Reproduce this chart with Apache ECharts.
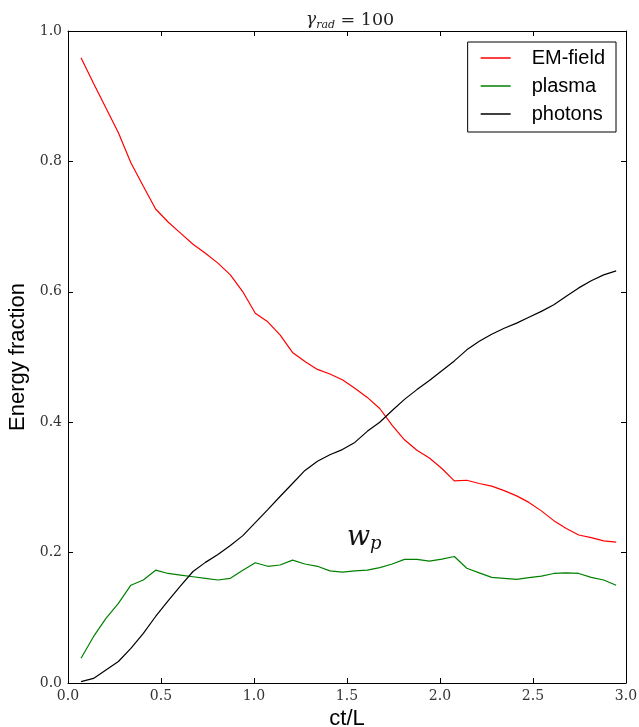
<!DOCTYPE html>
<html>
<head>
<meta charset="utf-8">
<script src="https://cdn.jsdelivr.net/npm/echarts@6/dist/echarts.min.js"></script>
<style>html,body{margin:0;padding:0;background:#fff;}#c{width:639px;height:727px;}</style>
</head>
<body>
<div id="c"></div>
<script>
var ctL = [0.070,0.137,0.204,0.271,0.338,0.405,0.471,0.538,0.605,0.672,0.739,0.806,0.873,0.940,1.007,1.074,1.140,1.207,1.274,1.341,1.408,1.475,1.542,1.609,1.676,1.743,1.809,1.876,1.943,2.010,2.077,2.144,2.211,2.278,2.345,2.412,2.478,2.545,2.612,2.679,2.746,2.813,2.880,2.947];
var emField = [0.959,0.920,0.882,0.844,0.798,0.762,0.727,0.707,0.690,0.673,0.659,0.644,0.626,0.600,0.567,0.554,0.534,0.507,0.493,0.481,0.474,0.465,0.452,0.438,0.421,0.395,0.373,0.357,0.345,0.329,0.310,0.311,0.306,0.302,0.295,0.287,0.277,0.264,0.249,0.237,0.227,0.223,0.218,0.216];
var plasma = [0.038,0.071,0.099,0.122,0.150,0.158,0.173,0.168,0.1655,0.163,0.1605,0.158,0.1605,0.173,0.1845,0.179,0.181,0.1885,0.1825,0.179,0.172,0.170,0.172,0.173,0.177,0.1825,0.1897,0.1897,0.187,0.190,0.194,0.176,0.169,0.162,0.1605,0.159,0.1615,0.164,0.168,0.169,0.168,0.162,0.158,0.150];
var photons = [0.002,0.007,0.020,0.033,0.053,0.076,0.102,0.126,0.149,0.171,0.185,0.197,0.211,0.226,0.246,0.266,0.286,0.306,0.326,0.340,0.350,0.358,0.369,0.386,0.400,0.418,0.435,0.450,0.464,0.479,0.494,0.511,0.524,0.535,0.544,0.552,0.561,0.570,0.580,0.593,0.606,0.617,0.626,0.632];
var xTicks = [0, 0.5, 1.0, 1.5, 2.0, 2.5, 3.0];
var yTicks = [0, 0.2, 0.4, 0.6, 0.8, 1.0];
var seriesNames = ['EM-field', 'plasma', 'photons'];
var annotation = {x: 1.5, y: 0.222};

function pairs(ys){ return ys.map(function(v,i){ return [ctL[i], v]; }); }

var serif = '"DejaVu Serif", "Liberation Serif", serif';
var sans = '"Liberation Sans", Arial, sans-serif';

var chart = echarts.init(document.getElementById('c'), null, {renderer:'canvas'});
var axisCommon = {
  axisLine: {show: true, onZero: false, lineStyle: {color: '#000', width: 1}},
  axisTick: {show: true, inside: true, length: 5, lineStyle: {color: '#000', width: 1}},
  splitLine: {show: false}
};
chart.setOption({
  animation: false,
  backgroundColor: '#fff',
  title: {
    text: '{g|γ}{s|rad}{n| = 100}',
    left: 301, top: 4,
    textStyle: {
      fontWeight: 'normal',
      rich: {
        g: {fontFamily: serif, fontStyle: 'italic', fontWeight: 'normal', fontSize: 17, color: '#222', lineHeight: 22},
        s: {fontFamily: serif, fontStyle: 'italic', fontWeight: 'normal', fontSize: 11, color: '#222', verticalAlign: 'bottom', lineHeight: 14},
        n: {fontFamily: serif, fontWeight: 'normal', fontSize: 17.5, color: '#222', lineHeight: 22}
      }
    }
  },
  legend: {
    data: seriesNames,
    orient: 'vertical',
    right: 23, top: 42,
    padding: [6, 11, 8, 13],
    itemGap: 8,
    itemWidth: 30, itemHeight: 1.5,
    icon: 'rect',
    borderColor: '#000', borderWidth: 1,
    backgroundColor: '#fff',
    textStyle: {fontFamily: sans, fontSize: 20, color: '#000', padding: [0,0,0,16]}
  },
  grid: {left: 68, right: 13, top: 31, bottom: 44, outerBoundsMode: 'none', containLabel: false},
  xAxis: [
    Object.assign({}, axisCommon, {
      type: 'value', min: xTicks[0], max: xTicks[xTicks.length-1], interval: 0.5, position: 'bottom',
      name: 'ct/L', nameLocation: 'middle', nameGap: 22,
      nameTextStyle: {fontFamily: sans, fontSize: 22, color: '#000'},
      axisLabel: {fontFamily: serif, fontSize: 14, color: '#333', margin: 6, formatter: function(v){ return v.toFixed(1); }}
    }),
    Object.assign({}, axisCommon, {
      type: 'value', min: xTicks[0], max: xTicks[xTicks.length-1], interval: 0.5, position: 'top',
      axisLabel: {show: false}
    })
  ],
  yAxis: [
    Object.assign({}, axisCommon, {
      type: 'value', min: yTicks[0], max: yTicks[yTicks.length-1], interval: 0.2, position: 'left',
      name: 'Energy fraction', nameLocation: 'middle', nameGap: 29,
      nameTextStyle: {fontFamily: sans, fontSize: 22, color: '#000'},
      axisLabel: {fontFamily: serif, fontSize: 14, color: '#333', margin: 6, formatter: function(v){ return v.toFixed(1); }}
    }),
    Object.assign({}, axisCommon, {
      type: 'value', min: yTicks[0], max: yTicks[yTicks.length-1], interval: 0.2, position: 'right',
      axisLabel: {show: false}
    })
  ],
  series: [
    {name: seriesNames[0], type: 'line', data: pairs(emField), showSymbol: false, symbol: 'none',
     lineStyle: {color: '#ff0000', width: 1.2}, itemStyle: {color: '#ff0000'}},
    {name: seriesNames[1], type: 'line', data: pairs(plasma), showSymbol: false, symbol: 'none',
     lineStyle: {color: '#008000', width: 1.2}, itemStyle: {color: '#008000'},
     markPoint: {
       symbol: 'circle', symbolSize: 0, silent: true,
       data: [{coord: [annotation.x, annotation.y]}],
       label: {show: true, position: 'right', distance: 0,
         formatter: '{w|w}{p|p}',
         rich: {
           w: {fontFamily: serif, fontStyle: 'italic', fontSize: 27, color: '#111', lineHeight: 30},
           p: {fontFamily: serif, fontStyle: 'italic', fontSize: 18, color: '#111', verticalAlign: 'bottom', lineHeight: 20}
         }
       }
     }},
    {name: seriesNames[2], type: 'line', data: pairs(photons), showSymbol: false, symbol: 'none',
     lineStyle: {color: '#000000', width: 1.2}, itemStyle: {color: '#000000'}}
  ]
});
</script>
</body>
</html>
